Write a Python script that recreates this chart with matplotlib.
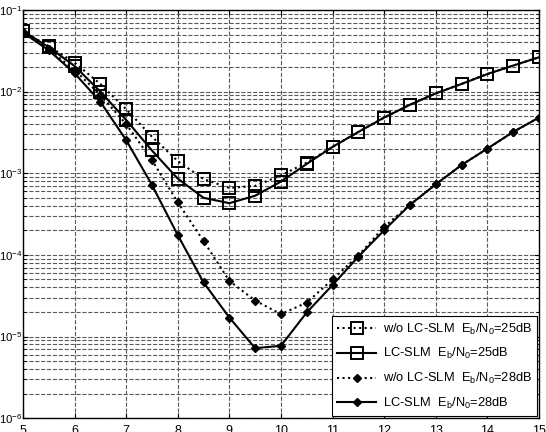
import numpy as np
import matplotlib.pyplot as plt
from matplotlib.ticker import LogLocator, NullFormatter

plt.rcParams['font.family'] = ['Liberation Sans', 'DejaVu Sans']
plt.rcParams['mathtext.default'] = 'regular'
plt.rcParams['axes.unicode_minus'] = False

# SNR axis (dB)
x = np.arange(5, 15.5, 0.5)

# BER curves
ber_wo_25 = [0.055, 0.036, 0.0226, 0.0124, 0.0061, 0.0028, 0.00141, 0.00085, 0.00066,
             0.00070, 0.00094, 0.00135, 0.0021, 0.0032, 0.0048, 0.0069, 0.0095,
             0.0124, 0.0164, 0.0208, 0.0263]
ber_lc_25 = [0.055, 0.035, 0.0206, 0.0100, 0.0045, 0.0019, 0.00086, 0.00050, 0.00043,
             0.00053, 0.00079, 0.00130, 0.0021, 0.0032, 0.0048, 0.0069, 0.0095,
             0.0124, 0.0164, 0.0208, 0.0263]
ber_wo_28 = [0.053, 0.033, 0.0184, 0.0091, 0.0040, 0.00145, 0.00044, 0.000148, 4.8e-5,
             2.76e-5, 1.88e-5, 2.6e-5, 5.0e-5, 9.8e-5, 2.2e-4, 4.1e-4, 7.3e-4,
             0.00126, 0.0020, 0.0032, 0.0048]
ber_lc_28 = [0.053, 0.032, 0.0168, 0.0075, 0.00255, 0.00072, 0.000175, 4.6e-5, 1.71e-5,
             7.2e-6, 7.7e-6, 1.97e-5, 4.27e-5, 9.5e-5, 2.0e-4, 4.1e-4, 7.3e-4,
             0.00126, 0.0020, 0.0032, 0.0048]

yticks = [1e-6, 1e-5, 1e-4, 1e-3, 1e-2, 1e-1]
ytick_labels = ['10$^{-6}$', '10$^{-5}$', '10$^{-4}$', '10$^{-3}$', '10$^{-2}$', '10$^{-1}$']

labels = ['w/o LC-SLM  E$_b$/N$_0$=25dB', 'LC-SLM  E$_b$/N$_0$=25dB',
          'w/o LC-SLM  E$_b$/N$_0$=28dB', 'LC-SLM  E$_b$/N$_0$=28dB']

fig = plt.figure(figsize=(5.46, 4.32), dpi=100)
ax = fig.add_axes([0.042, 0.032, 0.945, 0.945])

ax.semilogy(x, ber_wo_25, 'k:s', lw=1.5, ms=8, mfc='none', mew=1.4, label=labels[0])
ax.semilogy(x, ber_lc_25, 'k-s', lw=1.5, ms=8, mfc='none', mew=1.4, label=labels[1])
ax.semilogy(x, ber_wo_28, 'k:D', lw=1.5, ms=4.5, label=labels[2])
ax.semilogy(x, ber_lc_28, 'k-D', lw=1.5, ms=4.5, label=labels[3])

ax.set_xlim(5, 15)
ax.set_ylim(1e-6, 1e-1)
ax.set_xticks(np.arange(5, 16, 1))
ax.set_yticks(yticks)
ax.set_yticklabels(ytick_labels)
ax.yaxis.set_minor_locator(LogLocator(base=10, subs=np.arange(2, 10), numticks=20))
ax.yaxis.set_minor_formatter(NullFormatter())

ax.grid(True, which='major', ls='--', color='0.35', lw=0.8)
ax.grid(True, which='minor', axis='y', ls='--', color='0.35', lw=0.8)
ax.tick_params(which='both', direction='in', top=True, right=True)
ax.tick_params(axis='x', labelsize=9, pad=5)
ax.tick_params(axis='y', labelsize=8.2, pad=0.5)
for s in ax.spines.values():
    s.set_linewidth(1.0)

leg = ax.legend(loc='lower right', fontsize=9.3, fancybox=False, edgecolor='k',
                framealpha=1, borderaxespad=0.15, handlelength=3.0, handletextpad=0.5,
                labelspacing=0.75)
leg.get_frame().set_linewidth(0.8)

plt.savefig('out.png', dpi=100)
